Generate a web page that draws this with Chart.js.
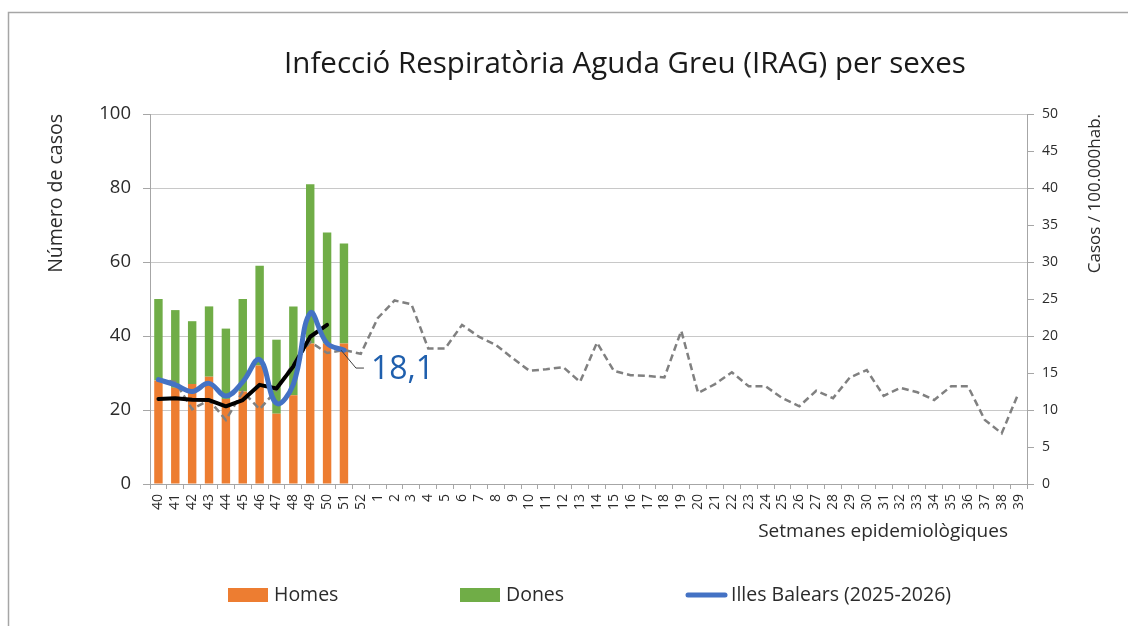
<!DOCTYPE html>
<html><head><meta charset="utf-8">
<script src="https://cdn.jsdelivr.net/npm/chart.js@4.4.1/dist/chart.umd.min.js"></script>
<style>html,body{margin:0;padding:0;background:#fff}#wrap{width:1128px;height:626px;position:relative}</style>
</head><body><div id="wrap"><canvas id="c" width="1128" height="626"></canvas></div>
<script>
const weeks = ['40','41','42','43','44','45','46','47','48','49','50','51','52','1','2','3','4','5','6','7','8','9','10','11','12','13','14','15','16','17','18','19','20','21','22','23','24','25','26','27','28','29','30','31','32','33','34','35','36','37','38','39'];
const homes = [28,26,27,29,23,25,32,19,24,38,38,38];
const dones = [22,21,17,19,19,25,27,20,24,43,30,27];
const balears = [14.1,13.4,12.5,13.6,11.9,13.8,16.8,10.9,13.5,23.1,19.0,18.1];
const blackLine = [11.5,11.6,11.4,11.35,10.5,11.35,13.4,12.9,15.9,19.9,21.5];
const prevSeason = [14.1,13.8,10.1,11.35,8.65,12.5,10.1,12.7,16.3,19.2,17.7,18.1,17.6,22.4,24.8,24.3,18.3,18.3,21.5,19.9,18.8,17.0,15.3,15.5,15.8,13.8,19.1,15.3,14.7,14.6,14.4,20.7,12.3,13.5,15.1,13.2,13.2,11.6,10.5,12.6,11.6,14.4,15.4,11.9,13.0,12.4,11.35,13.2,13.2,8.65,6.85,12.3];
const leftTicks = [0,20,40,60,80,100];
const rightTicks = [0,5,10,15,20,25,30,35,40,45,50];

const FONT = "'Open Sans', 'Noto Sans', sans-serif";
const ORANGE = '#ED7D31', GREEN = '#70AD47', BLUE = '#4472C4';
const AXIS = '#a6a6a6', GRID = '#c8c8c8', TXT = '#2b2b2b';

const decor = {
  id: 'decor',
  beforeDraw(chart) {
    const ctx = chart.ctx;
    ctx.save();
    ctx.fillStyle = '#fff';
    ctx.fillRect(0, 0, chart.width, chart.height);
    ctx.strokeStyle = AXIS; ctx.lineWidth = 1.5;
    ctx.beginPath(); ctx.moveTo(8.5, 626); ctx.lineTo(8.5, 12.5); ctx.lineTo(1128, 12.5); ctx.stroke();
    ctx.restore();
  },
  afterDraw(chart) {
    const ctx = chart.ctx;
    const ca = chart.chartArea;
    ctx.save();
    // title
    ctx.fillStyle = '#1a1a1a';
    ctx.font = "29.5px " + FONT;
    ctx.textAlign = 'center'; ctx.textBaseline = 'middle';
    ctx.fillText('Infecció Respiratòria Aguda Greu (IRAG) per sexes', 625, 65);
    // axis titles
    ctx.fillStyle = TXT;
    ctx.font = "19.5px " + FONT;
    ctx.save(); ctx.translate(56, ca.top); ctx.rotate(-Math.PI/2);
    ctx.textAlign = 'right'; ctx.fillText('Número de casos', 0, 0); ctx.restore();
    ctx.font = "17px " + FONT;
    ctx.save(); ctx.translate(1095, ca.top); ctx.rotate(-Math.PI/2);
    ctx.textAlign = 'right'; ctx.fillText('Casos / 100.000hab.', 0, 0); ctx.restore();
    ctx.font = "19px " + FONT;
    ctx.textAlign = 'right';
    ctx.fillText('Setmanes epidemiològiques', 1008, 532);
    // data label
    const meta = chart.getDatasetMeta(2);
    const pt = meta.data[balears.length - 1];
    ctx.strokeStyle = '#404040'; ctx.lineWidth = 1;
    ctx.beginPath(); ctx.moveTo(pt.x - 3, pt.y); ctx.lineTo(pt.x + 12, pt.y + 18); ctx.lineTo(pt.x + 20, pt.y + 18); ctx.stroke();
    ctx.fillStyle = '#1F5FAD';
    ctx.font = "32px " + FONT;
    ctx.textAlign = 'left';
    ctx.fillText(String(balears[balears.length - 1]).replace('.', ','), pt.x + 27, pt.y + 20);
    // legend
    ctx.font = "19.5px " + FONT;
    ctx.textBaseline = 'middle';
    const ly = 595;
    const ds = chart.data.datasets;
    ctx.fillStyle = ds[0].backgroundColor; ctx.fillRect(228, ly - 7, 40, 14);
    ctx.fillStyle = TXT; ctx.fillText(ds[0].label, 274, ly);
    ctx.fillStyle = ds[1].backgroundColor; ctx.fillRect(460, ly - 7, 40, 14);
    ctx.fillStyle = TXT; ctx.fillText(ds[1].label, 506, ly);
    ctx.strokeStyle = ds[2].borderColor; ctx.lineWidth = 5; ctx.lineCap = 'round';
    ctx.beginPath(); ctx.moveTo(688, ly); ctx.lineTo(725, ly); ctx.stroke();
    ctx.fillStyle = TXT; ctx.fillText(ds[2].label, 731, ly);
    ctx.restore();
  }
};

new Chart(document.getElementById('c'), {
  data: {
    labels: weeks,
    datasets: [
      { type: 'bar', label: 'Homes', data: homes, backgroundColor: ORANGE, yAxisID: 'y', stack: 's', order: 5, barPercentage: 0.5, categoryPercentage: 1 },
      { type: 'bar', label: 'Dones', data: dones, backgroundColor: GREEN, yAxisID: 'y', stack: 's', order: 5, barPercentage: 0.5, categoryPercentage: 1 },
      { type: 'line', label: 'Illes Balears (2025-2026)', data: balears, borderColor: BLUE, backgroundColor: BLUE, borderWidth: 5, tension: 0.4, pointRadius: 0, yAxisID: 'y2', order: 1, borderCapStyle: 'round', borderJoinStyle: 'round' },
      { type: 'line', label: 'Mitjana', data: blackLine, borderColor: '#000', borderWidth: 4, tension: 0, pointRadius: 0, yAxisID: 'y2', order: 2, borderCapStyle: 'round', borderJoinStyle: 'round' },
      { type: 'line', label: 'Temporada anterior', data: prevSeason, borderColor: '#808080', borderWidth: 2.5, borderDash: [7, 4], tension: 0, pointRadius: 0, yAxisID: 'y2', order: 3 }
    ]
  },
  options: {
    responsive: false,
    animation: false,
    devicePixelRatio: 1,
    layout: { padding: { top: 114, left: 0, right: 0, bottom: 0 } },
    plugins: { legend: { display: false }, title: { display: false }, tooltip: { enabled: false } },
    scales: {
      x: {
        stacked: true,
        offset: true,
        grid: { drawOnChartArea: false, offset: true, tickLength: 5, color: AXIS },
        border: { color: AXIS, width: 1 },
        ticks: { autoSkip: false, maxRotation: 90, minRotation: 90, padding: 5, color: TXT, font: { family: FONT, size: 14 } },
        afterFit(s) { s.height = 142; }
      },
      y: {
        position: 'left', stacked: true, min: 0, max: 100,
        afterBuildTicks(s) { s.ticks = leftTicks.map(v => ({ value: v })); },
        grid: { color: GRID, tickLength: 7, tickColor: AXIS },
        border: { color: AXIS, width: 1 },
        ticks: { padding: 12, color: TXT, font: { family: FONT, size: 18.5 } },
        afterFit(s) { s.width = 150; }
      },
      y2: {
        position: 'right', stacked: false, min: 0, max: 50,
        afterBuildTicks(s) { s.ticks = rightTicks.map(v => ({ value: v })); },
        grid: { drawOnChartArea: false, tickLength: 7, color: AXIS },
        border: { color: AXIS, width: 1 },
        ticks: { padding: 8, color: TXT, font: { family: FONT, size: 14 } },
        afterFit(s) { s.width = 101; }
      }
    }
  },
  plugins: [decor]
});
</script></body></html>
